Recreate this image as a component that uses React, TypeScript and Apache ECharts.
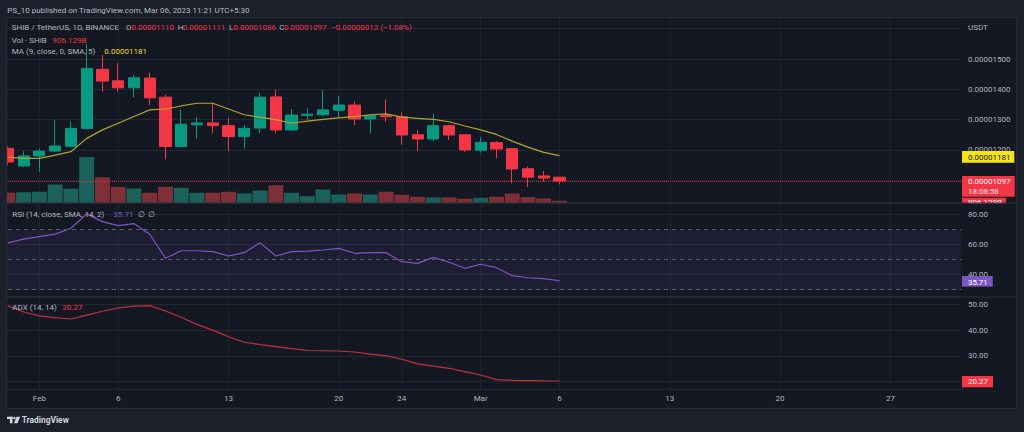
import React, { useEffect, useRef } from 'react';
import * as echarts from 'echarts';

// ---- categories (daily, Jan 30 → Mar 31, 2023) ----
const dates = [
  '01-30', '01-31',
  '02-01', '02-02', '02-03', '02-04', '02-05', '02-06', '02-07', '02-08', '02-09', '02-10',
  '02-11', '02-12', '02-13', '02-14', '02-15', '02-16', '02-17', '02-18', '02-19', '02-20',
  '02-21', '02-22', '02-23', '02-24', '02-25', '02-26', '02-27', '02-28',
  '03-01', '03-02', '03-03', '03-04', '03-05', '03-06', '03-07', '03-08', '03-09', '03-10',
  '03-11', '03-12', '03-13', '03-14', '03-15', '03-16', '03-17', '03-18', '03-19', '03-20',
  '03-21', '03-22', '03-23', '03-24', '03-25', '03-26', '03-27', '03-28', '03-29', '03-30', '03-31',
];

// time-axis tick labels
const tickDates = ['02-01', '02-06', '02-13', '02-20', '02-24', '03-01', '03-06', '03-13', '03-20', '03-27'];
const tickTexts = ['Feb', '6', '13', '20', '24', 'Mar', '6', '13', '20', '27'];

// ---- prices, in units of 1e-8 USDT (Jan 30 → Mar 6) ----
const openP = [1205, 1147, 1180, 1196, 1212, 1271, 1466, 1428, 1405, 1437, 1374, 1211, 1283, 1289, 1280, 1244, 1272, 1375, 1266, 1314, 1316, 1331, 1348, 1302, 1313, 1310, 1250, 1236, 1280, 1250, 1199, 1224, 1204, 1138, 1114, 1110];
const closeP = [1160, 1180, 1196, 1213, 1271, 1469, 1427, 1405, 1438, 1372, 1211, 1285, 1289, 1280, 1244, 1271, 1374, 1266, 1315, 1318, 1332, 1348, 1302, 1313, 1309, 1249, 1236, 1280, 1249, 1200, 1225, 1203, 1137, 1110, 1107, 1097];
const lowP = [1150, 1143, 1128, 1192, 1208, 1266, 1392, 1392, 1374, 1348, 1169, 1209, 1238, 1255, 1196, 1205, 1255, 1255, 1262, 1299, 1311, 1304, 1282, 1255, 1293, 1218, 1196, 1230, 1233, 1194, 1191, 1172, 1090, 1077, 1095, 1086];
const highP = [1212, 1196, 1205, 1299, 1293, 1550, 1513, 1486, 1447, 1455, 1383, 1332, 1308, 1354, 1306, 1282, 1389, 1398, 1335, 1339, 1398, 1378, 1359, 1318, 1367, 1323, 1266, 1318, 1283, 1251, 1242, 1229, 1206, 1145, 1130, 1111];
const ma9 = [1176, 1172, 1172, 1183, 1194, 1238, 1266, 1288, 1310, 1332, 1335, 1345, 1354, 1354, 1335, 1316, 1308, 1300, 1288, 1295, 1301, 1306, 1310, 1316, 1319, 1308, 1304, 1301, 1293, 1279, 1266, 1251, 1229, 1209, 1192, 1181];

// volume, billions of SHIB
const volume = [4500, 4770, 4950, 8240, 6300, 20700, 11520, 7200, 6440, 4500, 7200, 6750, 4500, 4500, 4950, 4190, 5540, 7920, 4500, 2970, 5990, 3740, 4190, 3740, 4950, 3600, 2700, 2390, 2390, 1800, 2250, 2700, 4190, 2520, 1940, 906.129];

// indicators
const rsi = [61.0, 63.5, 65.1, 66.8, 70.7, 80.3, 75.1, 72.4, 73.8, 66.7, 50.7, 55.7, 55.7, 55.1, 52.2, 54.4, 61.1, 52.2, 55.1, 55.5, 56.2, 57.3, 54.0, 54.4, 54.4, 48.4, 47.3, 51.3, 48.0, 44.0, 46.7, 44.4, 39.1, 37.7, 37.1, 35.71];
const adx = [49.5, 47.0, 45.5, 44.8, 44.3, 45.8, 47.3, 48.6, 49.3, 49.5, 47.4, 45.0, 42.2, 40.0, 37.4, 35.3, 34.4, 33.6, 32.8, 32.1, 32.0, 31.9, 31.5, 30.7, 30.1, 28.7, 26.9, 26.0, 25.2, 23.9, 22.6, 20.8, 20.5, 20.4, 20.3, 20.27];

// y-axis tick labels
const priceTicks = [1200, 1300, 1400, 1500];
const rsiTicks = [40, 60, 80];
const adxTicks = [30, 40, 50];
const rsiLevels = [70, 50, 30];

const FONT = 'Roboto, "Noto Sans", sans-serif';
const GRAY = '#b2b5be';
const UP = '#089981';
const DOWN = '#f23645';
const VOL_UP = '#1b625a';
const VOL_DOWN = '#7e2f37';
const CHART_BG = '#141823';
const OUTER_BG = '#1c202b';
const GRID = '#232733';

function txt(x: number, y: number, text: string, fill: string, extra: any = {}) {
  return {
    type: 'text',
    x,
    y,
    z: 100,
    silent: true,
    style: { text, fill, fontSize: 8, lineHeight: 8, fontFamily: FONT, verticalAlign: 'middle', align: 'left', ...extra },
  };
}
function box(x: number, y: number, w: number, h: number, fill: string, z = 99) {
  return { type: 'rect', z, silent: true, shape: { x, y, width: w, height: h }, style: { fill } };
}

export default function App() {
  const ref = useRef<HTMLDivElement>(null);

  useEffect(() => {
    if (!ref.current) return;
    const chart = echarts.init(ref.current, null, { renderer: 'svg' });

    const candles = openP.map((o, i) => [o, closeP[i], lowP[i], highP[i]]);
    const vols = volume.map((v, i) => ({
      value: v,
      itemStyle: { color: closeP[i] >= openP[i] ? VOL_UP : VOL_DOWN },
    }));
    const isTick = (_i: number, v: string) => tickDates.indexOf(v) >= 0;

    const xAxisFor = (gi: number, labels: boolean) => ({
      type: 'category',
      gridIndex: gi,
      data: dates,
      boundaryGap: true,
      axisLine: { show: false },
      axisTick: { show: false },
      axisLabel: labels
        ? {
            show: true,
            interval: isTick,
            formatter: (v: string) => {
              const k = tickDates.indexOf(v);
              return k >= 0 ? tickTexts[k] : '';
            },
            color: GRAY,
            fontSize: 8,
            fontFamily: FONT,
            margin: 5,
          }
        : { show: false },
      splitLine: { show: true, interval: isTick, alignWithLabel: true, lineStyle: { color: '#1f2330', width: 1 } },
    });

    const yLabel = (ticks: number[], fmt: (v: number) => string) => ({
      color: GRAY,
      fontSize: 8,
      lineHeight: 8,
      fontFamily: FONT,
      margin: 6.7,
      formatter: (v: number) => (ticks.indexOf(Math.round(v * 100) / 100) >= 0 ? fmt(v) : ''),
    });

    const option: any = {
      animation: false,
      backgroundColor: OUTER_BG,
      grid: [
        { left: -6.2, width: 967.5, top: 17.5, height: 185.2 },
        { left: -6.2, width: 967.5, top: 203.3, height: 93.4 },
        { left: -6.2, width: 967.5, top: 297.3, height: 91.7 },
      ],
      xAxis: [xAxisFor(0, false), xAxisFor(1, false), xAxisFor(2, true)],
      yAxis: [
        {
          type: 'value', gridIndex: 0, position: 'right', min: 1025.7, max: 1637,
          splitNumber: 6, minInterval: 100, maxInterval: 100,
          axisLine: { show: false }, axisTick: { show: false },
          axisLabel: yLabel(priceTicks, (v) => (v * 1e-8).toFixed(8)),
          splitLine: { lineStyle: { color: GRID, width: 1 } },
        },
        { type: 'value', gridIndex: 0, min: 0, max: 84000, show: false, splitLine: { show: false } },
        {
          type: 'value', gridIndex: 1, position: 'right', min: 25.07, max: 87.33,
          splitNumber: 3, minInterval: 20, maxInterval: 20,
          axisLine: { show: false }, axisTick: { show: false },
          axisLabel: yLabel(rsiTicks, (v) => v.toFixed(2)),
          splitLine: { lineStyle: { color: GRID, width: 1 } },
        },
        {
          type: 'value', gridIndex: 2, position: 'right', min: 17.17, max: 52.71,
          splitNumber: 4, minInterval: 10, maxInterval: 10,
          axisLine: { show: false }, axisTick: { show: false },
          axisLabel: yLabel(adxTicks, (v) => v.toFixed(2)),
          splitLine: { lineStyle: { color: GRID, width: 1 } },
        },
      ],
      series: [
        {
          name: 'Vol', type: 'bar', xAxisIndex: 0, yAxisIndex: 1, data: vols, barWidth: 15,
          silent: true,
        },
        {
          name: 'SHIB', type: 'candlestick', xAxisIndex: 0, yAxisIndex: 0, data: candles, barWidth: 11.7,
          silent: true,
          itemStyle: { color: UP, color0: DOWN, borderColor: UP, borderColor0: DOWN, borderWidth: 1 },
          markLine: {
            silent: true, symbol: ['none', 'none'], label: { show: false },
            lineStyle: { color: DOWN, type: 'dotted', width: 1, opacity: 0.75 },
            data: [{ yAxis: closeP[closeP.length - 1] }],
          },
        },
        {
          name: 'MA', type: 'line', xAxisIndex: 0, yAxisIndex: 0, data: ma9, showSymbol: false, silent: true,
          lineStyle: { color: '#b3a42e', width: 1.2 },
        },
        {
          name: 'RSI', type: 'line', xAxisIndex: 1, yAxisIndex: 2, data: rsi, showSymbol: false, silent: true,
          lineStyle: { color: '#7e57c2', width: 1.2 },
          markArea: {
            silent: true,
            itemStyle: { color: 'rgba(126,87,194,0.1)' },
            data: [[{ yAxis: 30 }, { yAxis: 70 }]],
          },
          markLine: {
            silent: true, symbol: ['none', 'none'], label: { show: false },
            lineStyle: { color: '#5d606b', type: [4, 4], width: 1 },
            data: rsiLevels.map((v) => ({ yAxis: v })),
          },
        },
        {
          name: 'ADX', type: 'line', xAxisIndex: 2, yAxisIndex: 3, data: adx, showSymbol: false, silent: true,
          lineStyle: { color: '#c2303c', width: 1.2 },
        },
      ],
      graphic: [
        // chart frame background
        { type: 'rect', z: -100, silent: true, shape: { x: 6.7, y: 17.3, width: 1010, height: 391 }, style: { fill: CHART_BG } },
        // cover left overflow
        box(0, 15, 6.7, 396, OUTER_BG, 90),
        // frame outline
        { type: 'rect', z: 95, silent: true, shape: { x: 6.7, y: 17.3, width: 1010, height: 391 }, style: { fill: 'none', stroke: '#2a2e39', lineWidth: 1 } },
        // pane separators
        { type: 'line', z: 95, silent: true, shape: { x1: 6.7, y1: 203, x2: 1016.7, y2: 203 }, style: { stroke: '#2a2e39', lineWidth: 1 } },
        { type: 'line', z: 95, silent: true, shape: { x1: 6.7, y1: 297, x2: 1016.7, y2: 297 }, style: { stroke: '#2a2e39', lineWidth: 1 } },

        // header
        txt(7.3, 10, 'PS_10 published on TradingView.com, Mar 06, 2023 11:21 UTC+5:30', '#b8bbc4'),

        // main legend
        txt(11.7, 27.7, 'SHIB / TetherUS, 1D, BINANCE', GRAY),
        txt(126, 27.7, 'O', GRAY),
        txt(131.5, 27.7, '0.00001110', DOWN),
        txt(177.7, 27.7, 'H', GRAY),
        txt(182.7, 27.7, '0.00001111', DOWN),
        txt(229, 27.7, 'L', GRAY),
        txt(233.3, 27.7, '0.00001086', DOWN),
        txt(279.3, 27.7, 'C', GRAY),
        txt(284, 27.7, '0.00001097', DOWN),
        txt(331, 27.7, '\u22120.00000012 (\u22121.08%)', DOWN),
        txt(11.7, 40, 'Vol \u00b7 SHIB', GRAY),
        txt(52.3, 40, '906.129B', DOWN),
        txt(11.7, 51.7, 'MA (9, close, 0, SMA, 5)', GRAY),
        txt(104.3, 51.7, '0.00001181', '#e9d827'),

        // RSI legend
        txt(12.2, 214, 'RSI (14, close, SMA, 14, 2)', GRAY),
        txt(113.3, 214, '35.71', '#7e57c2'),
        txt(137.5, 214, '\u2205', GRAY),
        txt(147.5, 214, '\u2205', GRAY),

        // ADX legend
        txt(12.3, 307.3, 'ADX (14, 14)', GRAY),
        txt(62.3, 307.3, '20.27', DOWN),

        // price scale caption
        txt(968, 27.3, 'USDT', GRAY),

        // price-scale markers
        box(962, 151, 52.3, 11.7, '#f5e21c'),
        txt(968, 157, '0.00001181', '#131722'),
        box(962, 176, 52.7, 20.7, DOWN),
        txt(968, 181.7, '0.00001097', '#ffffff'),
        txt(968, 191.4, '18:08:58', '#fbe3e5'),
        box(962, 197.7, 44, 6, DOWN),
        txt(968, 202.4, '906.129B', '#ffffff'),
        box(962, 203.4, 54, 5.8, CHART_BG, 101),
        { type: 'line', z: 102, silent: true, shape: { x1: 962, y1: 203, x2: 1016.7, y2: 203 }, style: { stroke: '#2a2e39', lineWidth: 1 } },
        box(962, 276, 30.7, 10.6, '#7e57c2'),
        txt(968, 282.4, '35.71', '#ffffff', { fontSize: 7.8 }),
        box(962, 376, 31, 11.3, DOWN),
        txt(968, 381.8, '20.27', '#ffffff'),

        // TradingView logo
        box(7, 416.8, 5.6, 2.3, '#d1d4dc'),
        box(9.8, 416.8, 2.7, 6.5, '#d1d4dc'),
        { type: 'circle', z: 99, silent: true, shape: { cx: 14.4, cy: 418, r: 1.25 }, style: { fill: '#d1d4dc' } },
        { type: 'polygon', z: 99, silent: true, shape: { points: [[16.6, 416.8], [20.2, 416.8], [17.4, 423.3], [13.9, 423.3]] }, style: { fill: '#d1d4dc' } },
        txt(21.7, 420.2, 'TradingView', '#d1d4dc', { fontSize: 8.4, fontWeight: 'bold' }),
      ],
    };

    chart.setOption(option);
    return () => chart.dispose();
  }, []);

  return (
    <div
      ref={ref}
      style={{ position: 'fixed', left: 0, top: 0, width: 1024, height: 432 }}
    />
  );
}
